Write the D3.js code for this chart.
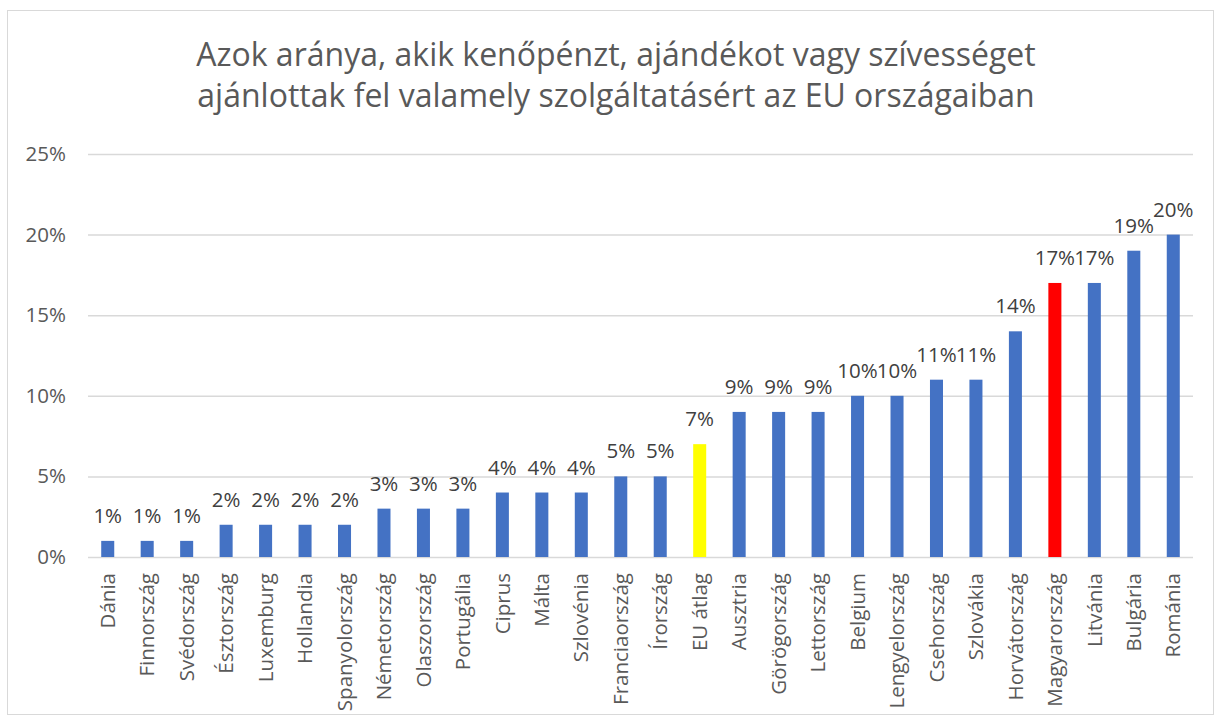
<!DOCTYPE html>
<html>
<head>
<meta charset="utf-8">
<script src="https://cdn.jsdelivr.net/npm/d3@7"></script>
<style>
    body { margin: 0; background: #fff; }
    text { font-family: "Open Sans", sans-serif; }
</style>
</head>
<body>
<div id="wrapper"></div>
<script>
const countries = ["Dánia", "Finnország", "Svédország", "Észtország", "Luxemburg", "Hollandia",
    "Spanyolország", "Németország", "Olaszország", "Portugália", "Ciprus", "Málta", "Szlovénia",
    "Franciaország", "Írország", "EU átlag", "Ausztria", "Görögország", "Lettország", "Belgium",
    "Lengyelország", "Csehország", "Szlovákia", "Horvátország", "Magyarország", "Litvánia",
    "Bulgária", "Románia"]
const shares = [1, 1, 1, 2, 2, 2, 2, 3, 3, 3, 4, 4, 4, 5, 5, 7, 9, 9, 9, 10, 10, 11, 11, 14, 17, 17, 19, 20]
const yTicks = [0, 5, 10, 15, 20, 25]
const highlight = { "EU átlag": "#ffff00", "Magyarország": "#ff0000" }
const titleLines = ["Azok aránya, akik kenőpénzt, ajándékot vagy szívességet",
    "ajánlottak fel valamely szolgáltatásért az EU országaiban"]

window.addEventListener("load", paint)

function paint() {
    const dimensions = {
        width: 1220,
        height: 722,
        margin: { top: 154, right: 27, bottom: 165, left: 88 }
    }
    dimensions.boundedWidth = dimensions.width - dimensions.margin.left - dimensions.margin.right
    dimensions.boundedHeight = dimensions.height - dimensions.margin.top - dimensions.margin.bottom

    const svg = d3.select("#wrapper")
        .append("svg")
            .attr("width", dimensions.width)
            .attr("height", dimensions.height)

    // chart frame
    svg.append("rect")
        .attr("x", 7.5).attr("y", 10.5)
        .attr("width", 1206).attr("height", 704)
        .attr("fill", "#fff").attr("stroke", "#d9d9d9")

    svg.append("g").selectAll("text")
        .data(titleLines)
        .join("text")
            .attr("x", 616)
            .attr("y", (d, i) => 66 + i * 41)
            .attr("text-anchor", "middle")
            .attr("font-size", 32)
            .attr("fill", "#595959")
            .text(d => d)

    const bounds = svg.append("g")
        .attr("transform", `translate(${dimensions.margin.left},${dimensions.margin.top})`)

    const x = d3.scaleBand()
        .domain(countries)
        .range([0, dimensions.boundedWidth])
        .paddingInner(0.67)
        .paddingOuter(0.335)

    const y = d3.scaleLinear()
        .domain([0, 25])
        .range([dimensions.boundedHeight, 0])

    // gridlines
    bounds.append("g").selectAll("line")
        .data(yTicks)
        .join("line")
            .attr("x1", 0).attr("x2", dimensions.boundedWidth)
            .attr("y1", d => y(d) + 0.5).attr("y2", d => y(d) + 0.5)
            .attr("stroke", "#d9d9d9").attr("stroke-width", 1.5)

    const yAxis = d3.axisLeft(y)
        .tickValues(yTicks)
        .tickSize(0)
        .tickPadding(22)
        .tickFormat(d => d + "%")
    const yAxisGroup = bounds.append("g").call(yAxis)
    yAxisGroup.select(".domain").remove()
    yAxisGroup.selectAll("text")
        .attr("font-size", 20.5).attr("fill", "#595959")
        .attr("font-family", "'Open Sans', sans-serif")

    bounds.append("g").selectAll("rect")
        .data(countries)
        .join("rect")
            .attr("x", d => x(d))
            .attr("width", x.bandwidth())
            .attr("y", (d, i) => y(shares[i]))
            .attr("height", (d, i) => y(0) - y(shares[i]))
            .attr("fill", d => highlight[d] || "#4472c4")

    bounds.append("g").selectAll("text")
        .data(countries)
        .join("text")
            .attr("x", d => x(d) + x.bandwidth() / 2)
            .attr("y", (d, i) => y(shares[i]) - 18)
            .attr("text-anchor", "middle")
            .attr("font-size", 20.5)
            .attr("fill", "#404040")
            .text((d, i) => shares[i] + "%")

    const xAxis = d3.axisBottom(x).tickSize(0).tickPadding(0)
    const xAxisGroup = bounds.append("g")
        .attr("transform", `translate(0,${dimensions.boundedHeight})`)
        .call(xAxis)
    xAxisGroup.select(".domain").remove()
    xAxisGroup.selectAll("text")
        .attr("font-size", 20.5).attr("fill", "#595959")
        .attr("font-family", "'Open Sans', sans-serif")
        .attr("text-anchor", "end")
        .attr("dy", "0.35em")
        .attr("transform", "translate(0,16) rotate(-90)")
        .attr("y", 0).attr("x", 0)
}
</script>
</body>
</html>
